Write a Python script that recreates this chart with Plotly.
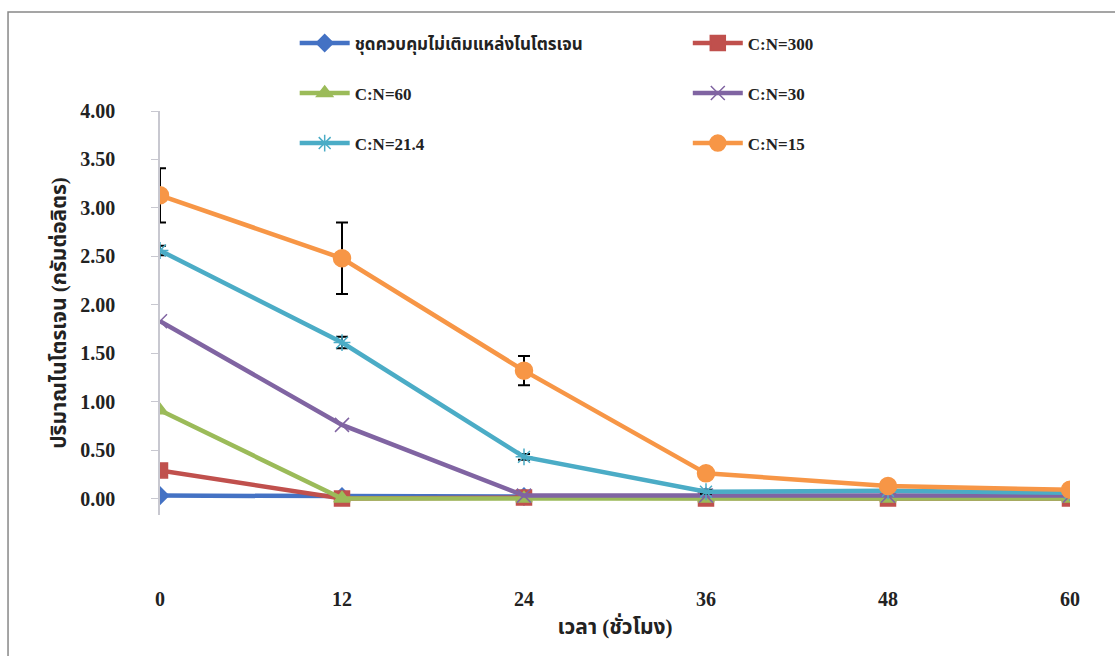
import plotly.graph_objects as go

hours = [0, 12, 24, 36, 48, 60]
series_names = ["ชุดควบคุมไม่เติมแหล่งไนโตรเจน", "C:N=300", "C:N=60", "C:N=30", "C:N=21.4", "C:N=15"]
control = [0.03, 0.02, 0.02, 0.02, 0.02, 0.02]
cn300 = [0.29, 0.00, 0.01, 0.00, 0.00, 0.00]
cn60 = [0.91, 0.00, 0.00, 0.00, 0.00, 0.00]
cn30 = [1.83, 0.76, 0.03, 0.03, 0.03, 0.03]
cn21 = [2.56, 1.61, 0.43, 0.07, 0.08, 0.06]
cn15 = [3.13, 2.48, 1.32, 0.26, 0.13, 0.09]
err21 = [0.05, 0.06, 0.03, 0.02, 0.0, 0.0]
err15 = [0.28, 0.37, 0.15, 0.0, 0.0, 0.0]
y_ticks = [0, 0.5, 1.0, 1.5, 2.0, 2.5, 3.0, 3.5, 4.0]

colors = ["#4472C4", "#C0504D", "#9BBB59", "#8064A2", "#4BACC6", "#F79646"]
symbols = ["diamond", "square", "triangle-up", "x-thin-open", "asterisk-open", "circle"]
sizes = [13, 15, 14, 14, 14, 17]
values = [control, cn300, cn60, cn30, cn21, cn15]
errors = [None, None, None, None, err21, err15]
legends = ["legend", "legend2", "legend", "legend2", "legend", "legend2"]

serif = "Liberation Serif, Noto Sans Thai, DejaVu Serif, serif"

fig = go.Figure()
for i in range(6):
    kw = {}
    if errors[i] is not None:
        kw["error_y"] = dict(type="data", array=errors[i], visible=True,
                             color="black", thickness=2, width=6)
    fig.add_trace(go.Scatter(
        x=hours, y=values[i], name=series_names[i], mode="lines+markers",
        line=dict(color=colors[i], width=4.5),
        marker=dict(symbol=symbols[i], size=sizes[i], color=colors[i],
                    line=dict(color=colors[i], width=1.5)),
        legend=legends[i], legendgroup=f"g{i}", **kw))

leg_common = dict(font=dict(family=serif, size=17, color="#222", weight="bold"),
                  tracegroupgap=25, itemwidth=50, bgcolor="rgba(0,0,0,0)",
                  yanchor="top", xanchor="left", orientation="v")

fig.update_layout(
    width=1115, height=656,
    margin=dict(l=160, r=45, t=111, b=141),
    paper_bgcolor="white", plot_bgcolor="white",
    font=dict(family=serif, color="#222"),
    legend=dict(x=0.148, y=1.212, **leg_common),
    legend2=dict(x=0.58, y=1.212, **leg_common),
    xaxis=dict(range=[0, 60], tickvals=hours, ticktext=[str(h) for h in hours],
               showline=False, showgrid=False, zeroline=False, ticks="",
               ticklabelstandoff=70,
               tickfont=dict(family=serif, size=20, color="#222", weight="bold"),
               title=dict(text="เวลา (ชั่วโมง)", standoff=10,
                          font=dict(family=serif, size=21, color="#222", weight="bold"))),
    yaxis=dict(range=[-0.17, 4.0], tickvals=y_ticks,
               ticktext=[f"{v:.2f}" for v in y_ticks],
               showline=True, linecolor="#c8c8d0", linewidth=1.5,
               ticks="outside", ticklen=7, tickcolor="#c8c8d0",
               showgrid=False, zeroline=False, ticklabelstandoff=32,
               tickfont=dict(family=serif, size=20, color="#222", weight="bold"),
               title=dict(text="ปริมาณไนโตรเจน (กรัมต่อลิตร)", standoff=8,
                          font=dict(family=serif, size=21, color="#222", weight="bold"))),
)
fig.add_shape(type="rect", xref="paper", yref="paper",
              x0=-0.167, x1=1.1, y0=-0.5, y1=1.245,
              line=dict(color="#888", width=1.5), fillcolor="rgba(0,0,0,0)", layer="below")

fig.write_html("out.html")
